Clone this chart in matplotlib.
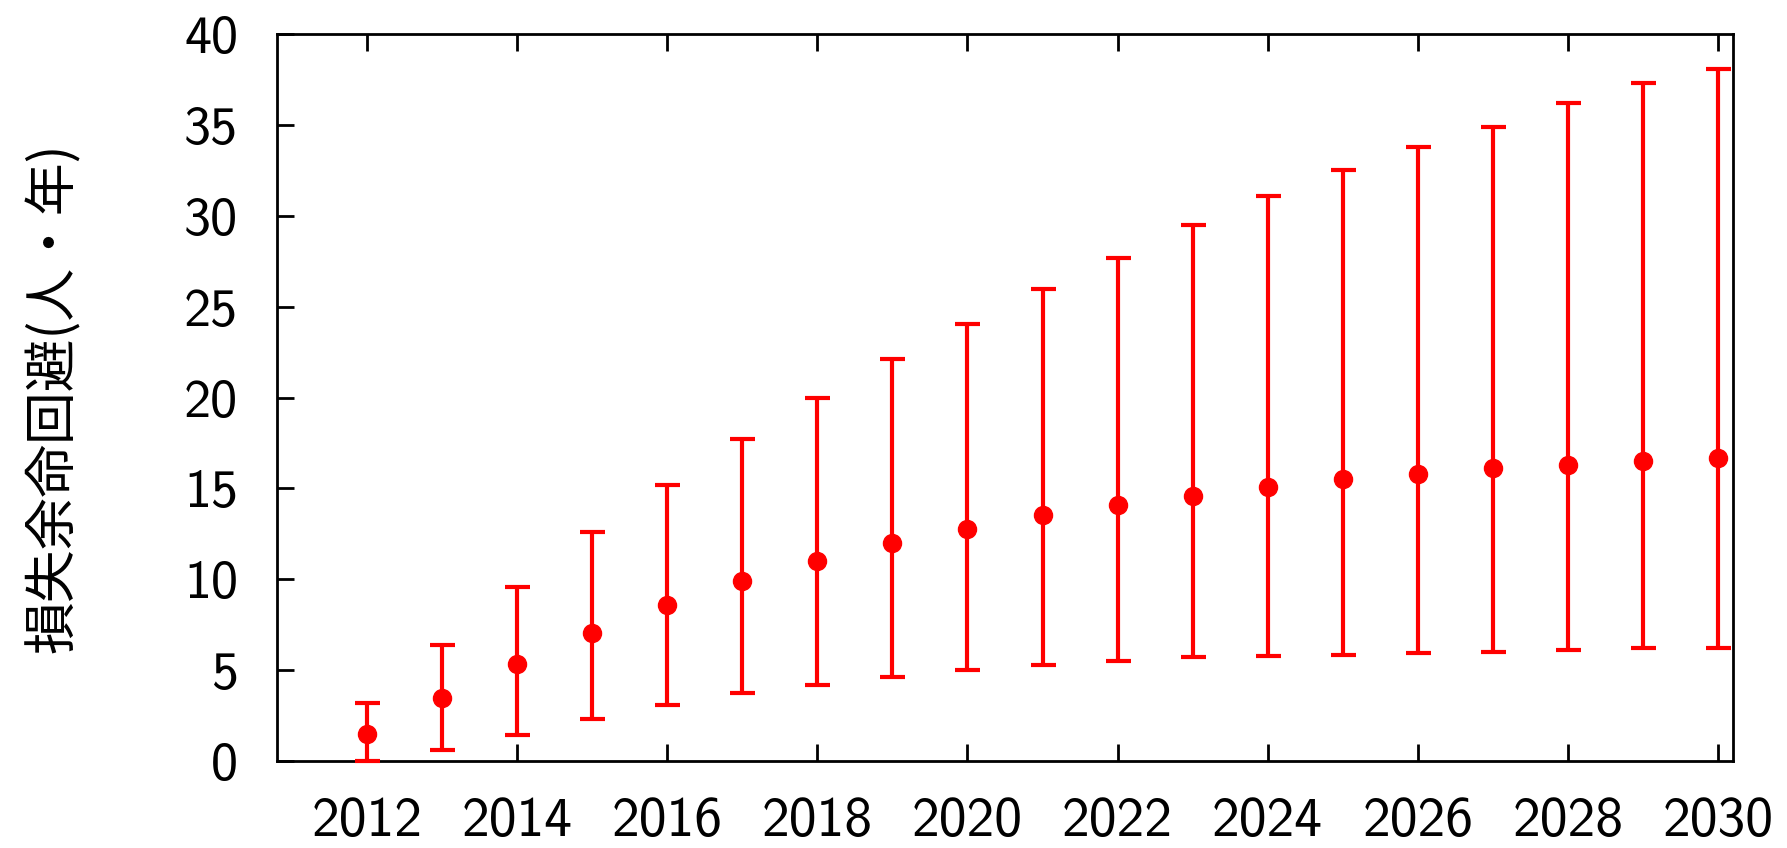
import matplotlib
matplotlib.use("Agg")
import matplotlib.pyplot as plt

# data
years = [2012, 2013, 2014, 2015, 2016, 2017, 2018, 2019, 2020, 2021,
         2022, 2023, 2024, 2025, 2026, 2027, 2028, 2029, 2030]
mean = [1.5, 3.45, 5.33, 7.02, 8.59, 9.9, 11.03, 11.97, 12.79, 13.54,
        14.1, 14.6, 15.05, 15.49, 15.8, 16.1, 16.3, 16.5, 16.68]
upper = [3.2, 6.4, 9.6, 12.6, 15.2, 17.7, 20.0, 22.1, 24.07, 25.96,
         27.7, 29.47, 31.1, 32.54, 33.8, 34.86, 36.2, 37.3, 38.1]
lower = [0.0, 0.63, 1.44, 2.32, 3.07, 3.76, 4.2, 4.64, 5.02, 5.27,
         5.52, 5.7, 5.77, 5.83, 5.96, 6.02, 6.08, 6.2, 6.2]
xticks = [2012, 2014, 2016, 2018, 2020, 2022, 2024, 2026, 2028, 2030]
yticks = [0, 5, 10, 15, 20, 25, 30, 35, 40]
ylabel = "損失余命回避(人・年)"

plt.rcParams["font.family"] = ["cmss10", "Noto Sans CJK JP", "DejaVu Sans"]

fig = plt.figure(figsize=(17.87, 8.48), dpi=100)
ax = fig.add_axes([277 / 1787, 1 - 761 / 848, (1733 - 277) / 1787, (761 - 34) / 848])

err_lo = [m - l for m, l in zip(mean, lower)]
err_hi = [u - m for m, u in zip(mean, upper)]
ax.errorbar(years, mean, yerr=[err_lo, err_hi], fmt="o", color="#ff0000",
            ecolor="#ff0000", elinewidth=3, capsize=9, capthick=3,
            markersize=13, zorder=3, clip_on=False)

ax.set_xlim(2010.8, 2030.2)
ax.set_ylim(0, 40)
ax.set_xticks(xticks)
ax.set_yticks(yticks)
ax.tick_params(axis="x", direction="in", length=12, width=2, top=True,
               labelsize=40, pad=26)
ax.tick_params(axis="y", direction="in", length=12, width=2,
               labelsize=39, pad=28)
for s in ax.spines.values():
    s.set_linewidth(2)

ax.set_ylabel(ylabel, fontsize=38, family=["Noto Sans CJK JP", "DejaVu Sans"],
              labelpad=74)

fig.savefig("out.png", dpi=100)
